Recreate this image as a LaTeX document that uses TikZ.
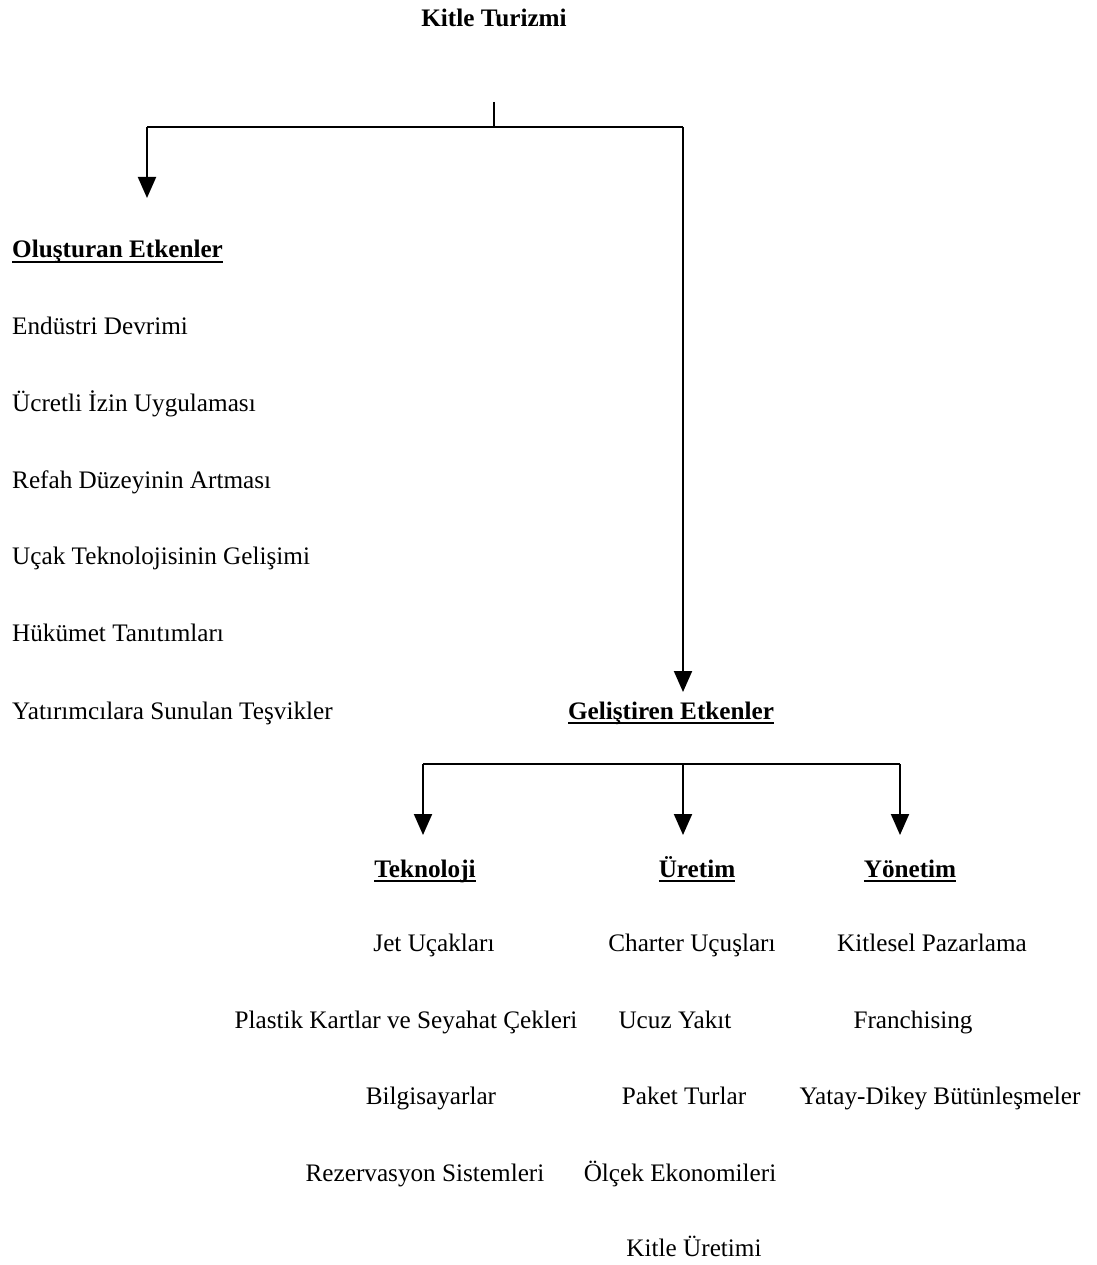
\documentclass[tikz,border=0pt]{standalone}
\usepackage{fontspec}
\setmainfont{Liberation Serif}
\usetikzlibrary{arrows.meta}

% bold heading with a rule under it
\newcommand\headline[1]{\setbox0\hbox{#1}\rlap{\rule[-5pt]{\wd0}{1.8pt}}\box0}

\tikzset{
  txt/.style={inner sep=0pt, font=\fontsize{25.2}{30}\selectfont},
  head/.style={txt, font=\fontsize{25.2}{30}\selectfont\bfseries},
  link/.style={line width=2pt},
  arr/.style={link, -{Triangle[length=21pt,width=18pt]}},
}

\begin{document}
\begin{tikzpicture}[x=1pt,y=-1pt]
\useasboundingbox (0,0) rectangle (1096,1265);

% title
\node[head, anchor=base] (title) at (494,27) {Kitle Turizmi};

% first split
\coordinate (t0) at (494,102);
\coordinate (t1) at (494,127);
\coordinate (tl) at (147,127);
\coordinate (tr) at (683,127);
\coordinate (al) at (147,198);
\coordinate (ar) at (683,692);
\draw[link] (t0) -- (t1);
\draw[link] (tl) -- (tr);
\draw[arr] (tl) -- (al);
\draw[arr] (tr) -- (ar);

% left branch
\node[head, anchor=base west] (olus) at (12,258) {\headline{Oluşturan Etkenler}};
\node[txt, anchor=base west] (o1) at (12,334) {Endüstri Devrimi};
\node[txt, anchor=base west] (o2) at (12,411) {Ücretli İzin Uygulaması};
\node[txt, anchor=base west] (o3) at (12,488) {Refah Düzeyinin Artması};
\node[txt, anchor=base west] (o4) at (12,564) {Uçak Teknolojisinin Gelişimi};
\node[txt, anchor=base west] (o5) at (12,641) {Hükümet Tanıtımları};
\node[txt, anchor=base west] (o6) at (12,719) {Yatırımcılara Sunulan Teşvikler};

% right branch
\node[head, anchor=base] (gel) at (671,719) {\headline{Geliştiren Etkenler}};

\coordinate (bl) at (423,764);
\coordinate (bm) at (683,764);
\coordinate (br) at (900,764);
\coordinate (dl) at (423,835);
\coordinate (dm) at (683,835);
\coordinate (dr) at (900,835);
\draw[link] (bl) -- (br);
\draw[arr] (bl) -- (dl);
\draw[arr] (bm) -- (dm);
\draw[arr] (br) -- (dr);

\node[head, anchor=base] (tek) at (425,877) {\headline{Teknoloji}};
\node[head, anchor=base] (ure) at (697,877) {\headline{Üretim}};
\node[head, anchor=base] (yon) at (910,877) {\headline{Yönetim}};

% Teknoloji
\node[txt, anchor=base] (k1) at (434,951) {Jet Uçakları};
\node[txt, anchor=base] (k2) at (406,1028) {Plastik Kartlar ve Seyahat Çekleri};
\node[txt, anchor=base] (k3) at (431,1104) {Bilgisayarlar};
\node[txt, anchor=base] (k4) at (425,1181) {Rezervasyon Sistemleri};

% Üretim
\node[txt, anchor=base] (u1) at (692,951) {Charter Uçuşları};
\node[txt, anchor=base] (u2) at (675,1028) {Ucuz Yakıt};
\node[txt, anchor=base] (u3) at (684,1104) {Paket Turlar};
\node[txt, anchor=base] (u4) at (680,1181) {Ölçek Ekonomileri};
\node[txt, anchor=base] (u5) at (694,1256) {Kitle Üretimi};

% Yönetim
\node[txt, anchor=base] (y1) at (932,951) {Kitlesel Pazarlama};
\node[txt, anchor=base] (y2) at (913,1028) {Franchising};
\node[txt, anchor=base] (y3) at (940,1104) {Yatay-Dikey Bütünleşmeler};
\end{tikzpicture}
\end{document}
